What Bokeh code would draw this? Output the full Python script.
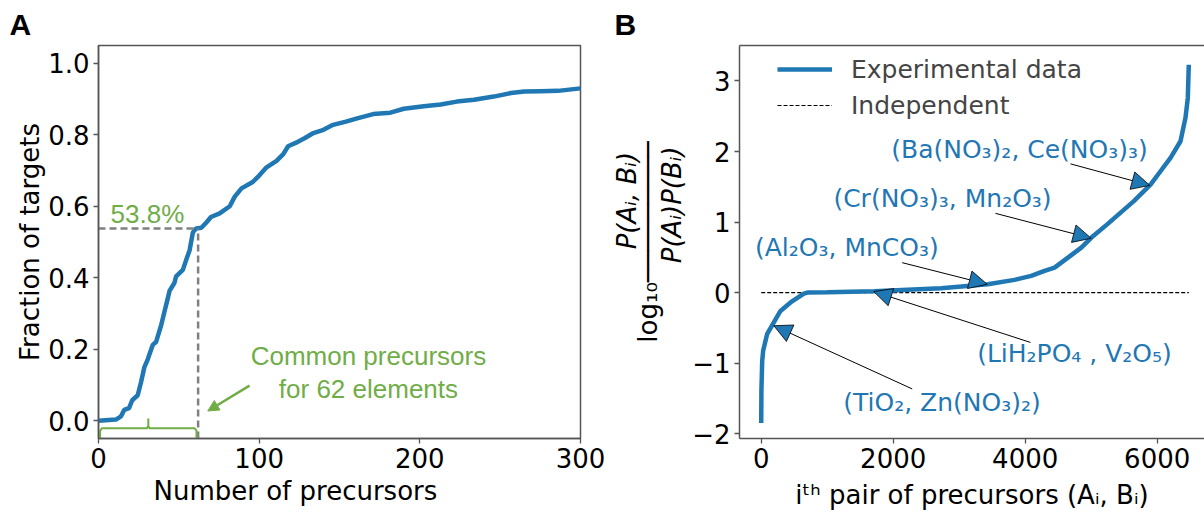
from bokeh.plotting import figure
from bokeh.models import (Label, Arrow, NormalHead, FixedTicker, LinearAxis, Legend,
                          LegendItem, Range1d, NumeralTickFormatter, Title)
from bokeh.layouts import row
from bokeh.embed import file_html
from bokeh.resources import INLINE

BLUE = "#1f77b4"
GREEN = "#70ad47"
FRAME = "#555555"
FONT = "DejaVu Sans"
SANS = "Liberation Sans"
NB = "\u00a0"

# ---------------- Panel A data ----------------
n_precursors = [0, 10.8, 14, 16, 19, 21, 24.4, 26.5, 28.5, 30.6, 33.75, 35.8, 39, 41, 43, 44.2,
                47.3, 48.3, 52.5, 54.6, 56.7, 58.75, 60.8, 64, 67, 70, 75.4, 81.7, 84.8, 89, 96,
                100, 104.6, 110.8, 115, 118, 123, 128.5, 133.75, 140, 146, 154, 161, 171, 181.7,
                190, 202.5, 213, 223, 233.75, 246, 256.7, 265, 275, 286, 300]
frac_targets = [0, 0.003, 0.012, 0.03, 0.035, 0.057, 0.071, 0.108, 0.149, 0.171, 0.212, 0.22,
                0.267, 0.304, 0.34, 0.363, 0.386, 0.404, 0.422, 0.45, 0.477, 0.527, 0.538, 0.54,
                0.554, 0.57, 0.58, 0.6, 0.627, 0.65, 0.668, 0.686, 0.709, 0.727, 0.746, 0.768,
                0.778, 0.791, 0.805, 0.814, 0.828, 0.837, 0.846, 0.858, 0.862, 0.873, 0.88, 0.885,
                0.893, 0.898, 0.907, 0.917, 0.921, 0.922, 0.923, 0.93]
n_common = 62
frac_common = 0.538
a_xticks = [0, 100, 200, 300]
a_yticks = [0.0, 0.2, 0.4, 0.6, 0.8, 1.0]

# ---------------- Panel B data ----------------
pair_index = [0, 3, 15, 30, 91, 191, 292, 444, 646, 700, 1000, 1711, 2724, 3433, 3838, 4091,
              4293, 4445, 4648, 4850, 5027, 5242, 5646, 5899, 6050, 6202, 6353, 6429, 6464, 6479]
log_ratio = [-1.85, -1.39, -0.97, -0.82, -0.585, -0.424, -0.26, -0.14, -0.014, 0.0, 0.004, 0.02,
             0.06, 0.118, 0.18, 0.236, 0.307, 0.354, 0.495, 0.637, 0.80, 0.967, 1.297, 1.53,
             1.72, 1.91, 2.145, 2.48, 2.76, 3.23]
b_xticks = [0, 2000, 4000, 6000]
b_yticks = [-2, -1, 0, 1, 2, 3]
b_ytick_labels = ["−2", "−1", "0", "1", "2", "3"]

pair_labels = ["(Ba(NO₃)₂, Ce(NO₃)₃)", "(Cr(NO₃)₃, Mn₂O₃)", "(Al₂O₃, MnCO₃)",
               "(LiH₂PO₄ , V₂O₅)", "(TiO₂, Zn(NO₃)₂)"]
label_pos = [(3914, 2.03), (2747, 1.34), (1298, 0.636), (4747, -0.867), (2739, -1.556)]
arrow_tail = [(4686, 1.825), (3550, 1.123), (2136, 0.424), (4080, -0.707), (2288, -1.366)]
arrow_tip = [(5888, 1.52), (5000, 0.77), (3424, 0.118), (1706, 0.014), (191, -0.47)]


def style_axis(ax, ticks):
    ax.ticker = FixedTicker(ticks=ticks)
    ax.minor_tick_line_color = None
    ax.major_tick_out = 5
    ax.major_tick_in = 0
    ax.major_tick_line_color = FRAME
    ax.major_tick_line_width = 1.3
    ax.major_label_standoff = 4
    ax.major_label_text_font = FONT
    ax.major_label_text_font_size = "26px"
    ax.major_label_text_color = "black"
    ax.axis_line_color = FRAME
    ax.axis_line_width = 1.5
    ax.axis_label_text_font = FONT
    ax.axis_label_text_font_size = "26px"
    ax.axis_label_text_font_style = "normal"
    ax.axis_label_text_color = "black"


def label_axis(text, standoff, style="normal"):
    return LinearAxis(ticker=FixedTicker(ticks=[]), axis_line_color=None, major_tick_out=0,
                      major_tick_in=0, minor_tick_out=0, minor_tick_in=0, major_label_standoff=0,
                      axis_label=text, axis_label_standoff=standoff, axis_label_text_font=FONT,
                      axis_label_text_font_size="26px", axis_label_text_font_style=style,
                      axis_label_text_color="black")


# ================= Panel A =================
pa = figure(width=605, height=512, x_range=Range1d(0, 300), y_range=Range1d(-0.05, 1.05),
            output_backend="svg", toolbar_location=None,
            min_border_left=98, min_border_right=25, min_border_top=44, min_border_bottom=66)
pa.xgrid.visible = False
pa.ygrid.visible = False
pa.outline_line_color = FRAME
pa.outline_line_width = 1.5
pa.background_fill_color = "white"
pa.border_fill_color = "white"
style_axis(pa.xaxis[0], a_xticks)
style_axis(pa.yaxis[0], a_yticks)
pa.yaxis[0].formatter = NumeralTickFormatter(format="0.0")
pa.yaxis[0].axis_label = "Fraction of targets"
pa.yaxis[0].axis_label_standoff = 0

pa.line(n_precursors, frac_targets, line_color=BLUE, line_width=4.5)
pa.line([0, n_common], [frac_common, frac_common], line_color="#808080", line_width=2.5,
        line_dash="7 4")
pa.line([n_common, n_common], [-0.05, frac_common], line_color="#808080", line_width=2.5,
        line_dash="7 4")
b0, b1 = 1, n_common - 1
mid = (b0 + b1) / 2
pa.line([b0, b0, b0 + 1.2, mid - 0.8, mid, mid, mid, mid + 0.8, b1 - 1.2, b1, b1],
        [-0.05, -0.028, -0.021, -0.021, -0.015, 0.006, -0.015, -0.021, -0.021, -0.028, -0.05],
        line_color=GREEN, line_width=2)
pa.add_layout(Arrow(x_start=94, y_start=0.098, x_end=68, y_end=0.027, line_color=GREEN,
                    line_width=2.5,
                    end=NormalHead(size=11, fill_color=GREEN, line_color=GREEN)))

pa.add_layout(Label(x=7.5, y=0.579, text="53.8%", text_font=SANS,
                    text_font_size="26px", text_color=GREEN, text_baseline="middle"))
pa.add_layout(Label(x=168, y=0.180, text="Common precursors", text_font=SANS,
                    text_font_size="26px", text_color=GREEN, text_align="center",
                    text_baseline="middle"))
pa.add_layout(Label(x=168, y=0.088, text="for 62 elements", text_font=SANS,
                    text_font_size="26px", text_color=GREEN, text_align="center",
                    text_baseline="middle"))
pa.add_layout(Title(text="Number of precursors", align="left", offset=55, standoff=6,
                    text_font=FONT, text_font_size="26px", text_font_style="normal",
                    text_color="black"), "below")
pa.add_layout(Title(text="A", align="left", offset=-89, standoff=10, text_font=SANS,
                    text_font_style="bold", text_font_size="30px", text_color="black"), "above")

# ================= Panel B =================
pb = figure(width=599, height=512, x_range=Range1d(-329, 6717), y_range=Range1d(-2.069, 3.503),
            output_backend="svg", toolbar_location=None,
            min_border_left=134, min_border_right=0, min_border_top=44, min_border_bottom=74)
pb.xgrid.visible = False
pb.ygrid.visible = False
pb.outline_line_color = None
pb.background_fill_color = "white"
pb.border_fill_color = "white"
style_axis(pb.xaxis[0], b_xticks)
style_axis(pb.yaxis[0], b_yticks)
pb.yaxis[0].major_label_overrides = dict(zip(b_yticks, b_ytick_labels))
pb.xaxis[0].axis_label = "iᵗʰ pair of precursors (Aᵢ, Bᵢ)"
pb.xaxis[0].axis_label_standoff = 9

# stacked y-axis title: denominator, fraction bar with log10, numerator
pb.yaxis[0].axis_label = NB * 9 + "P(Aᵢ)P(Bᵢ)"
pb.yaxis[0].axis_label_standoff = 2
pb.yaxis[0].axis_label_text_font_style = "italic"
pb.add_layout(label_axis("log₁₀─────────", -8), "left")
pb.add_layout(label_axis(NB * 10 + "P(Aᵢ, Bᵢ)", -12, "italic"), "left")

top_axis = LinearAxis(ticker=FixedTicker(ticks=[]), major_tick_out=0, major_tick_in=0,
                      minor_tick_out=0, minor_tick_in=0, axis_line_color=FRAME,
                      axis_line_width=1.5, major_label_standoff=0, axis_label_standoff=0)
pb.add_layout(top_axis, "above")

r_ind = pb.line([0, pair_index[-1]], [0, 0], line_color="black", line_width=1.2,
                line_dash="4 2")
r_exp = pb.line(pair_index, log_ratio, line_color=BLUE, line_width=4.5)

for (lx, ly), txt in zip(label_pos, pair_labels):
    pb.add_layout(Label(x=lx, y=ly, text=txt, text_font=FONT, text_font_size="25px",
                        text_color=BLUE, text_align="center", text_baseline="middle"))
for (tx, ty), (hx, hy) in zip(arrow_tail, arrow_tip):
    pb.add_layout(Arrow(x_start=tx, y_start=ty, x_end=hx, y_end=hy, line_color="black",
                        line_width=1,
                        end=NormalHead(size=18, fill_color=BLUE, line_color="black",
                                       line_width=0.8)))

legend = Legend(items=[LegendItem(label="Experimental data", renderers=[r_exp]),
                       LegendItem(label="Independent", renderers=[r_ind])],
                location=(38, 315), border_line_color=None, background_fill_alpha=0,
                padding=0, margin=0, spacing=0, glyph_width=55, glyph_height=36,
                label_height=36, label_standoff=19, label_text_font=FONT,
                label_text_font_size="25px")
pb.add_layout(legend)

pb.add_layout(Title(text="B", align="left", offset=-125, standoff=10, text_font=SANS,
                    text_font_style="bold", text_font_size="30px", text_color="black"), "above")

layout = row(pa, pb)
open("out.html", "w").write(file_html(layout, INLINE))
